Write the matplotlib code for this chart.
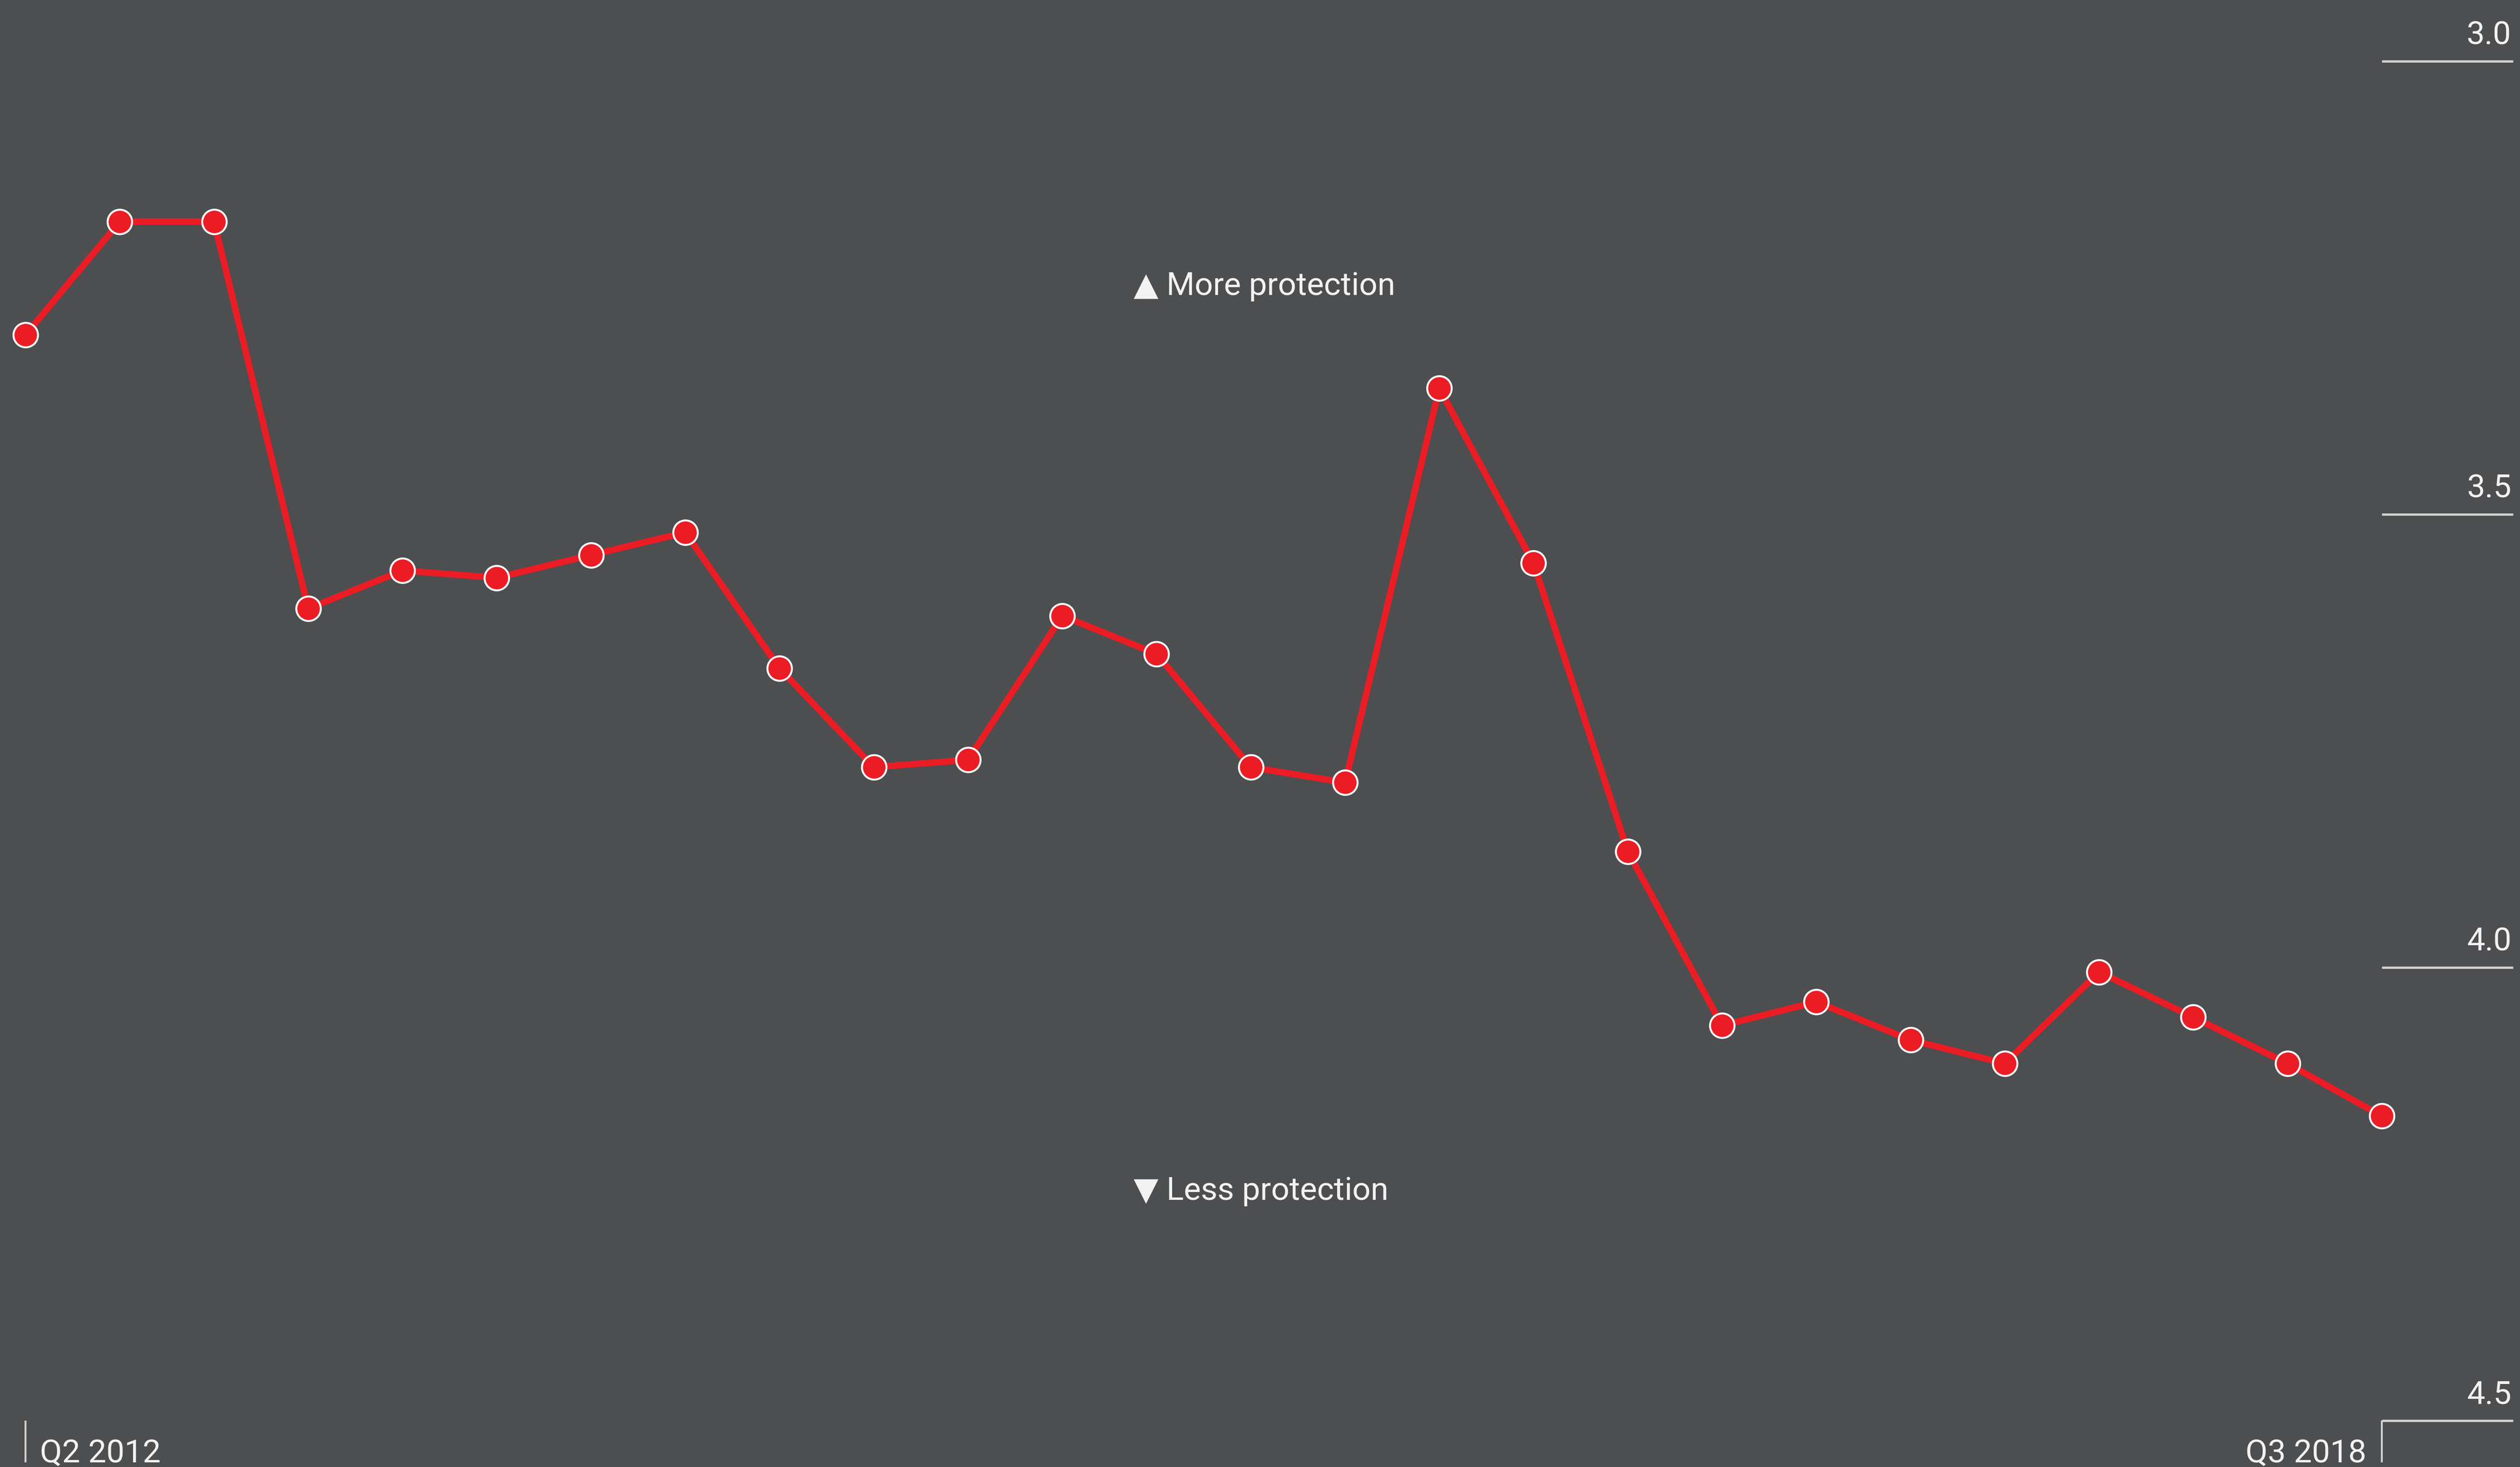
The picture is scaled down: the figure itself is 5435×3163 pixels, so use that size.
import numpy as np
import pandas as pd
import matplotlib
matplotlib.use('Agg')
import matplotlib.pyplot as plt

plt.rcParams['font.family'] = ['Roboto', 'DejaVu Sans']

# Quarterly index values (lower number = more protection, axis is inverted)
values = [3.302, 3.177, 3.177, 3.604, 3.562, 3.570, 3.545, 3.520, 3.670,
          3.779, 3.771, 3.612, 3.654, 3.779, 3.796, 3.361, 3.554, 3.872,
          4.064, 4.038, 4.080, 4.106, 4.005, 4.055, 4.106, 4.164]
quarters = [f'Q{p.quarter} {p.year}'
            for p in pd.period_range('2012Q2', '2018Q3', freq='Q')]
y_ticks = [3.0, 3.5, 4.0, 4.5]
y_labels = ['3.0', '3.5', '4.0', '4.5']

bg = '#4d4e50'
red = '#ec1c24'
fg = '#f2f2f2'
rule = '#d0d0d0'

fig = plt.figure(figsize=(27.175, 15.815), dpi=200, facecolor=bg)
ax = fig.add_axes([0, 0, 1, 1])
ax.set_facecolor(bg)
ax.axis('off')

x = np.arange(len(values))
ax.set_xlim(-0.2706, 26.466)
ax.set_ylim(4.5512, 2.9325)

# short rules + labels on the right-hand side
last = x[-1]
ax.hlines(y_ticks, last, last + 1.39, color=rule, lw=1.8)
for t, lab in zip(y_ticks, y_labels):
    ax.annotate(lab, (last + 1.375, t), xytext=(0, 13), textcoords='offset points',
                ha='right', va='baseline', color=fg, fontsize=25)

# end ticks and first/last quarter labels
ax.vlines([x[0], last], 4.5, 4.546, color=rule, lw=1.5)
ax.annotate(quarters[0], (x[0], 4.546), xytext=(11, 0), textcoords='offset points',
            ha='left', va='baseline', color=fg, fontsize=25)
ax.annotate(quarters[-1], (last, 4.546), xytext=(-12, 0), textcoords='offset points',
            ha='right', va='baseline', color=fg, fontsize=25)

# the series
ax.plot(x, values, color=red, lw=5, marker='o', ms=19, mfc=red,
        mec='white', mew=1.5, zorder=3)

ax.text(0.4499, 0.7989, '▲ More protection', transform=ax.transAxes,
        ha='left', va='baseline', color=fg, fontsize=25)
ax.text(0.4499, 0.1821, '▼ Less protection', transform=ax.transAxes,
        ha='left', va='baseline', color=fg, fontsize=25)

fig.savefig('out.png', dpi=200, facecolor=bg)
